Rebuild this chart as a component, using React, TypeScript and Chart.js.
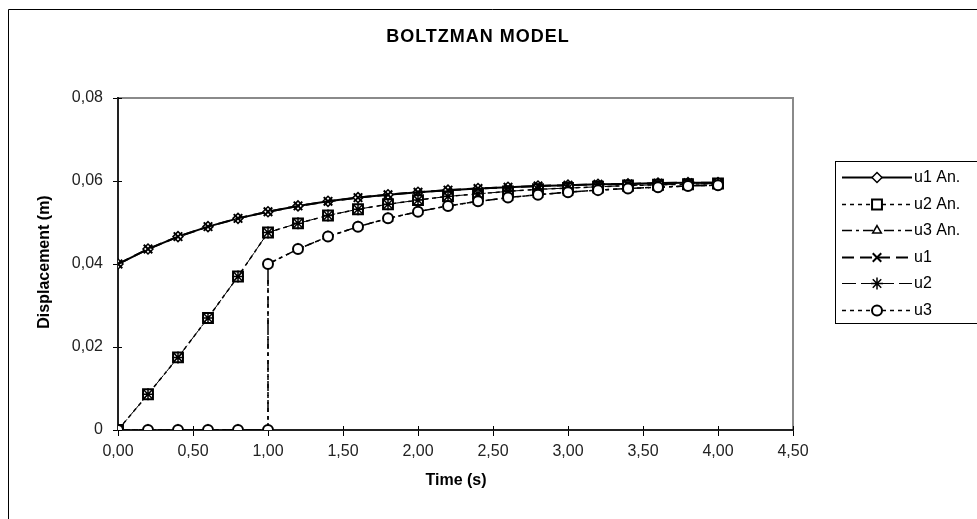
import React, { useEffect, useRef } from "react";
import { Chart, registerables } from "chart.js";
import { drawPoint } from "chart.js/helpers";

Chart.register(...registerables);

const chartTitle = "BOLTZMAN MODEL";
const xTitle = "Time (s)";
const yTitle = "Displacement (m)";

const time = [0, 0.2, 0.4, 0.6, 0.8, 1.0, 1.2, 1.4, 1.6, 1.8, 2.0, 2.2, 2.4, 2.6, 2.8, 3.0, 3.2, 3.4, 3.6, 3.8, 4.0];
const timeU3 = [0, 0.2, 0.4, 0.6, 0.8, 1.0, 1.0, 1.2, 1.4, 1.6, 1.8, 2.0, 2.2, 2.4, 2.6, 2.8, 3.0, 3.2, 3.4, 3.6, 3.8, 4.0];

const u1An = [0.0400, 0.0436, 0.0466, 0.0490, 0.0510, 0.0526, 0.0540, 0.0551, 0.0560, 0.0567, 0.0573, 0.0578, 0.0582, 0.0585, 0.0588, 0.0590, 0.0592, 0.0593, 0.0595, 0.0596, 0.0596];
const u2An = [0.0000, 0.0086, 0.0175, 0.0270, 0.0370, 0.0476, 0.0498, 0.0517, 0.0532, 0.0544, 0.0554, 0.0563, 0.0569, 0.0575, 0.0580, 0.0583, 0.0586, 0.0589, 0.0591, 0.0592, 0.0594];
const u3An = [0, 0, 0, 0, 0, 0, 0.0400, 0.0436, 0.0466, 0.0490, 0.0510, 0.0526, 0.0540, 0.0551, 0.0560, 0.0567, 0.0573, 0.0578, 0.0582, 0.0585, 0.0588, 0.0590];
const u1 = [0.0400, 0.0436, 0.0466, 0.0490, 0.0510, 0.0526, 0.0540, 0.0551, 0.0560, 0.0567, 0.0573, 0.0578, 0.0582, 0.0585, 0.0588, 0.0590, 0.0592, 0.0593, 0.0595, 0.0596, 0.0596];
const u2 = [0.0000, 0.0086, 0.0175, 0.0270, 0.0370, 0.0476, 0.0498, 0.0517, 0.0532, 0.0544, 0.0554, 0.0563, 0.0569, 0.0575, 0.0580, 0.0583, 0.0586, 0.0589, 0.0591, 0.0592, 0.0594];
const u3 = [0, 0, 0, 0, 0, 0, 0.0400, 0.0436, 0.0466, 0.0490, 0.0510, 0.0526, 0.0540, 0.0551, 0.0560, 0.0567, 0.0573, 0.0578, 0.0582, 0.0585, 0.0588, 0.0590];

const seriesLabels = ["u1 An.", "u2 An.", "u3 An.", "u1", "u2", "u3"];

const FONT = '"Liberation Sans", Arial, sans-serif';

type Sty = { dash: number[]; width: number; point: any; radius: number; pbw: number };
const styles: Sty[] = [
  { dash: [], width: 2, point: "rectRot", radius: 5, pbw: 1.5 },
  { dash: [4, 4], width: 1.5, point: "rect", radius: 7, pbw: 2 },
  { dash: [10, 4, 3, 4], width: 1.5, point: "triangle", radius: 5, pbw: 1.5 },
  { dash: [12, 6], width: 2, point: "crossRot", radius: 6, pbw: 2 },
  { dash: [14, 5], width: 1, point: "star", radius: 6, pbw: 1.5 },
  { dash: [4, 4], width: 1.5, point: "circle", radius: 5, pbw: 2 },
];

const pts = (xs: number[], ys: number[]) => xs.map((x, i) => ({ x, y: ys[i] }));

const fmt = (v: number) => v.toFixed(2).replace(".", ",");

const customPlugin = {
  id: "custom",
  beforeDraw(chart: any) {
    const { ctx, chartArea: a } = chart;
    ctx.save();
    ctx.fillStyle = "#fff";
    ctx.fillRect(0, 0, chart.width, chart.height);
    ctx.strokeStyle = "#000";
    ctx.lineWidth = 1;
    ctx.setLineDash([]);
    ctx.beginPath();
    ctx.moveTo(8.5, chart.height);
    ctx.lineTo(8.5, 9.5);
    ctx.lineTo(chart.width, 9.5);
    ctx.stroke();
    ctx.strokeStyle = "#8a8a8a";
    ctx.lineWidth = 2;
    ctx.beginPath();
    ctx.moveTo(a.left, a.top);
    ctx.lineTo(a.right, a.top);
    ctx.lineTo(a.right, a.bottom);
    ctx.stroke();
    ctx.restore();
  },
  beforeDatasetsDraw(chart: any) {
    const { ctx, chartArea: a, scales } = chart;
    ctx.save();
    ctx.strokeStyle = "#000";
    ctx.lineWidth = 1;
    ctx.setLineDash([]);
    ctx.beginPath();
    scales.x.ticks.forEach((t: any) => {
      const px = Math.round(scales.x.getPixelForValue(t.value)) + 0.5;
      ctx.moveTo(px, a.bottom);
      ctx.lineTo(px, a.bottom - 4);
    });
    scales.y.ticks.forEach((t: any) => {
      const py = Math.round(scales.y.getPixelForValue(t.value)) + 0.5;
      ctx.moveTo(a.left, py);
      ctx.lineTo(a.left + 4, py);
    });
    ctx.stroke();
    ctx.restore();
  },
  afterDraw(chart: any) {
    const { ctx } = chart;
    ctx.save();
    ctx.fillStyle = "#000";
    ctx.textBaseline = "middle";
    ctx.textAlign = "center";
    ctx.font = `bold 18px ${FONT}`;
    (ctx as any).letterSpacing = "1px";
    ctx.fillText(chartTitle, 478, 37);
    (ctx as any).letterSpacing = "0px";
    ctx.font = `bold 16px ${FONT}`;
    ctx.fillText(xTitle, 456, 481);
    ctx.save();
    ctx.translate(45, 262);
    ctx.rotate(-Math.PI / 2);
    ctx.fillText(yTitle, 0, 0);
    ctx.restore();

    // legend
    ctx.strokeStyle = "#000";
    ctx.lineWidth = 1;
    ctx.setLineDash([]);
    ctx.strokeRect(835.5, 161.5, 200, 162);
    ctx.font = `16px ${FONT}`;
    ctx.textAlign = "left";
    seriesLabels.forEach((lab, i) => {
      const s = styles[i];
      const y = Math.round(177 + 26.6 * i) + 0.5;
      ctx.strokeStyle = "#000";
      ctx.lineWidth = s.width;
      ctx.setLineDash(s.dash);
      ctx.beginPath();
      ctx.moveTo(842, y);
      ctx.lineTo(912, y);
      ctx.stroke();
      ctx.setLineDash([]);
      ctx.fillStyle = "#fff";
      ctx.lineWidth = s.pbw;
      drawPoint(ctx, { pointStyle: s.point, radius: s.radius, rotation: 0, borderWidth: s.pbw } as any, 877, y);
      ctx.fillStyle = "#000";
      ctx.fillText(lab, 914, y);
    });
    ctx.restore();
  },
};

export default function App() {
  const ref = useRef<HTMLCanvasElement | null>(null);
  useEffect(() => {
    if (!ref.current) return;
    const data = [pts(time, u1An), pts(time, u2An), pts(timeU3, u3An), pts(time, u1), pts(time, u2), pts(timeU3, u3)];
    const chart = new Chart(ref.current, {
      type: "scatter",
      data: {
        datasets: seriesLabels.map((label, i) => ({
          label,
          data: data[i],
          showLine: true,
          borderColor: "#000",
          borderWidth: styles[i].width,
          borderDash: styles[i].dash,
          pointStyle: styles[i].point,
          pointRadius: styles[i].radius,
          pointBorderWidth: styles[i].pbw,
          pointBorderColor: "#000",
          pointBackgroundColor: "#fff",
          backgroundColor: "#fff",
          order: 6 - i,
        })),
      },
      options: {
        animation: false,
        responsive: true,
        maintainAspectRatio: false,
        events: [],
        layout: { padding: { left: 0, top: 98, right: 184, bottom: 0 } },
        plugins: { legend: { display: false }, title: { display: false }, tooltip: { enabled: false } },
        scales: {
          x: {
            type: "linear",
            min: 0,
            max: 4.5,
            afterFit: (s: any) => { s.height = 89; },
            ticks: { stepSize: 0.5, color: "#222", font: { family: FONT, size: 16 }, padding: 6, callback: (v: any) => fmt(Number(v)), maxRotation: 0 },
            grid: { drawOnChartArea: false, drawTicks: true, tickLength: 6, color: "#000", lineWidth: 1 },
            border: { display: true, color: "#222", width: 2 },
          },
          y: {
            type: "linear",
            min: 0,
            max: 0.08,
            afterFit: (s: any) => { s.width = 118; },
            ticks: { stepSize: 0.02, color: "#222", font: { family: FONT, size: 16 }, padding: 10, callback: (v: any) => (Number(v) === 0 ? "0" : fmt(Number(v))) },
            grid: { drawOnChartArea: false, drawTicks: true, tickLength: 5, color: "#000", lineWidth: 1 },
            border: { display: true, color: "#222", width: 2 },
          },
        },
      },
      plugins: [customPlugin],
    });
    return () => chart.destroy();
  }, []);
  return (
    <div style={{ position: "absolute", left: 0, top: 0, width: 977, height: 519 }}>
      <canvas ref={ref} />
    </div>
  );
}
